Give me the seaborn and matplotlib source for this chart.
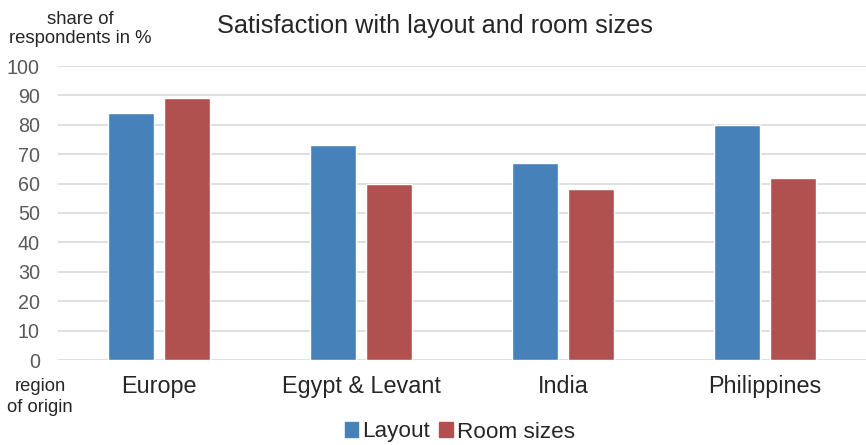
import pandas as pd
import matplotlib.pyplot as plt
import seaborn as sns
from matplotlib.patches import Patch

regions = ['Europe', 'Egypt & Levant', 'India', 'Philippines']
layout = [84, 73, 67, 80]
room_sizes = [89, 60, 58, 62]
series_names = ['Layout', 'Room sizes']
colors = ['#4781B9', '#B05150']


def main():
    df = pd.DataFrame({
        'region': regions * 2,
        'value': layout + room_sizes,
        'series': [series_names[0]] * len(regions) + [series_names[1]] * len(regions),
    })

    sns.set_theme(style="white")
    plt.rcParams['font.family'] = ['Liberation Sans', 'DejaVu Sans']

    fig = plt.figure(figsize=(8.66, 4.45), dpi=100)
    ax = fig.add_axes([58 / 866, 1 - 360 / 445, 1 - 58 / 866, (360 - 66) / 445])

    sns.barplot(data=df, x='region', y='value', hue='series', palette=colors,
                width=0.56, gap=0.19, ax=ax, legend=False, saturation=1)

    ax.set_ylim(0, 100)
    ax.set_xlim(-0.5, 3.5)
    ax.set_yticks(range(0, 101, 10))
    ax.yaxis.grid(True, color='#d9d9d9', linewidth=1.2)
    ax.set_axisbelow(True)
    for s in ax.spines.values():
        s.set_visible(False)
    ax.tick_params(axis='y', labelsize=14.2, colors='#595959', length=0, pad=13)
    ax.tick_params(axis='x', labelsize=16.8, colors='#262626', length=0, pad=11)
    ax.set_xlabel('')
    ax.set_ylabel('')

    fig.text(435 / 866, 1 - 26 / 445, 'Satisfaction with layout and room sizes',
             ha='center', va='center', fontsize=18.2, color='#262626')
    fig.text(80 / 866, 1 - 29 / 445, 'share of\nrespondents in %', ha='center',
             va='center', fontsize=13.3, color='#262626', linespacing=1.2)
    fig.text(40 / 866, 1 - 397 / 445, 'region\nof origin', ha='center',
             va='center', fontsize=13.2, color='#262626', linespacing=1.25)

    handles = [Patch(color=c) for c in colors]
    fig.legend(handles, series_names, loc='center', bbox_to_anchor=(460 / 866, 1 - 432 / 445),
               ncol=2, frameon=False, fontsize=16.2, handlelength=0.6, handleheight=0.6,
               handletextpad=0.2, columnspacing=0.4, labelcolor='#262626')

    fig.savefig('out.png', dpi=100)
    plt.close(fig)


if __name__ == "__main__":
    main()
